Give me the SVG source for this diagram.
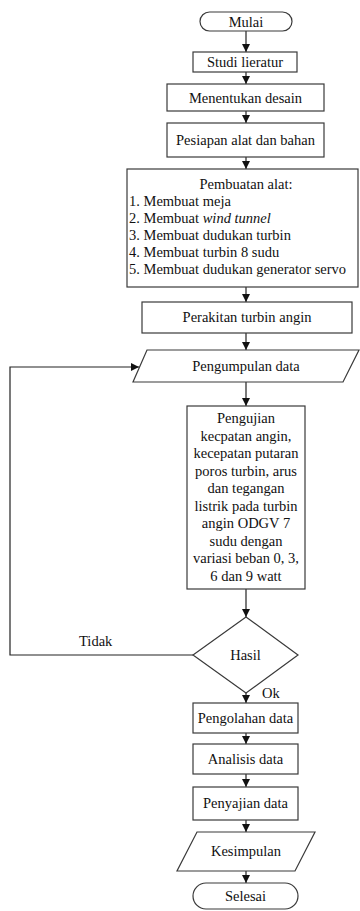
<svg xmlns="http://www.w3.org/2000/svg" width="360" height="911" viewBox="0 0 360 911" font-family="'Liberation Serif', 'DejaVu Serif', 'Times New Roman', serif" font-size="14.5">
<defs>
<marker id="ah" viewBox="0 0 8 8" refX="8" refY="4" markerWidth="8" markerHeight="8" markerUnits="userSpaceOnUse" orient="auto">
<path d="M0,0 L8,4 L0,8 Z" fill="#111"/>
</marker>
<style>
.s{fill:#fff;stroke:#3a3a3a;stroke-width:1.2}
text{font-family:'Liberation Serif','DejaVu Serif','Times New Roman',serif;font-size:14.5px;fill:#111}
.t{text-anchor:middle}
.c{fill:none;stroke:#222;stroke-width:1.2;marker-end:url(#ah)}
</style>
</defs>
<rect width="360" height="911" fill="#fff"/>
<g id="connectors">
<path class="c" d="M246,31 V52"/>
<path class="c" d="M246,72 V84"/>
<path class="c" d="M246,111 V123"/>
<path class="c" d="M246,157 V169"/>
<path class="c" d="M246,287 V302"/>
<path class="c" d="M246,333 V350"/>
<path class="c" d="M246,382 V406"/>
<path class="c" d="M246,589 V617"/>
<path class="c" d="M246,693 V703"/>
<path class="c" d="M246,733 V744"/>
<path class="c" d="M246,774 V787"/>
<path class="c" d="M246,820 V832"/>
<path class="c" d="M246,871 V883"/>
<path class="c" d="M193,655 H10 V367 H139"/>
<text x="79" y="646">Tidak</text>
<text x="262" y="698">Ok</text>
</g>
<g id="mulai">
<rect class="s" x="200" y="12" width="92" height="19" rx="9.5"/>
<text class="t" x="246" y="26.5">Mulai</text>
</g>
<g id="studi">
<rect class="s" x="193" y="52" width="104" height="20"/>
<text class="t" x="245" y="67">Studi lieratur</text>
</g>
<g id="menentukan">
<rect class="s" x="167" y="84" width="157" height="27"/>
<text class="t" x="245.5" y="102.5">Menentukan desain</text>
</g>
<g id="pesiapan">
<rect class="s" x="167" y="123" width="157" height="34"/>
<text class="t" x="245.5" y="145">Pesiapan alat dan bahan</text>
</g>
<g id="pembuatan">
<rect class="s" x="127" y="169" width="231" height="118"/>
<text class="t" x="246" y="189">Pembuatan alat:</text>
<text x="129" y="206">1. Membuat meja</text>
<text x="129" y="223">2. Membuat <tspan font-style="italic">wind tunnel</tspan></text>
<text x="129" y="240">3. Membuat dudukan turbin</text>
<text x="129" y="257">4. Membuat turbin 8 sudu</text>
<text x="129" y="274">5. Membuat dudukan generator servo</text>
</g>
<g id="perakitan">
<rect class="s" x="142" y="302" width="210" height="31"/>
<text class="t" x="247" y="322">Perakitan turbin angin</text>
</g>
<g id="pengumpulan">
<polygon class="s" points="147,350 359,350 343,382 133,382"/>
<text class="t" x="246" y="371">Pengumpulan data</text>
</g>
<g id="pengujian">
<rect class="s" x="187" y="406" width="118" height="183"/>
<text class="t" x="246" y="423">Pengujian</text>
<text class="t" x="246" y="440.5">kecpatan angin,</text>
<text class="t" x="246" y="458">kecepatan putaran</text>
<text class="t" x="246" y="475.5">poros turbin, arus</text>
<text class="t" x="246" y="493">dan tegangan</text>
<text class="t" x="246" y="510.5">listrik pada turbin</text>
<text class="t" x="246" y="528">angin ODGV 7</text>
<text class="t" x="246" y="545.5">sudu dengan</text>
<text class="t" x="246" y="563">variasi beban 0, 3,</text>
<text class="t" x="246" y="580.5">6 dan 9 watt</text>
</g>
<g id="hasil">
<polygon class="s" points="246,617 298,655 246,693 193,655"/>
<text class="t" x="245.5" y="660">Hasil</text>
</g>
<g id="pengolahan">
<rect class="s" x="193" y="703" width="105" height="30"/>
<text class="t" x="245.5" y="722.5">Pengolahan data</text>
</g>
<g id="analisis">
<rect class="s" x="193" y="744" width="105" height="30"/>
<text class="t" x="245.5" y="763.5">Analisis data</text>
</g>
<g id="penyajian">
<rect class="s" x="193" y="787" width="105" height="33"/>
<text class="t" x="245.5" y="808">Penyajian data</text>
</g>
<g id="kesimpulan">
<polygon class="s" points="197,832 315,832 295,871 177,871"/>
<text class="t" x="246" y="856">Kesimpulan</text>
</g>
<g id="selesai">
<rect class="s" x="193" y="883" width="105" height="26" rx="13"/>
<text class="t" x="245.5" y="901">Selesai</text>
</g>
</svg>
